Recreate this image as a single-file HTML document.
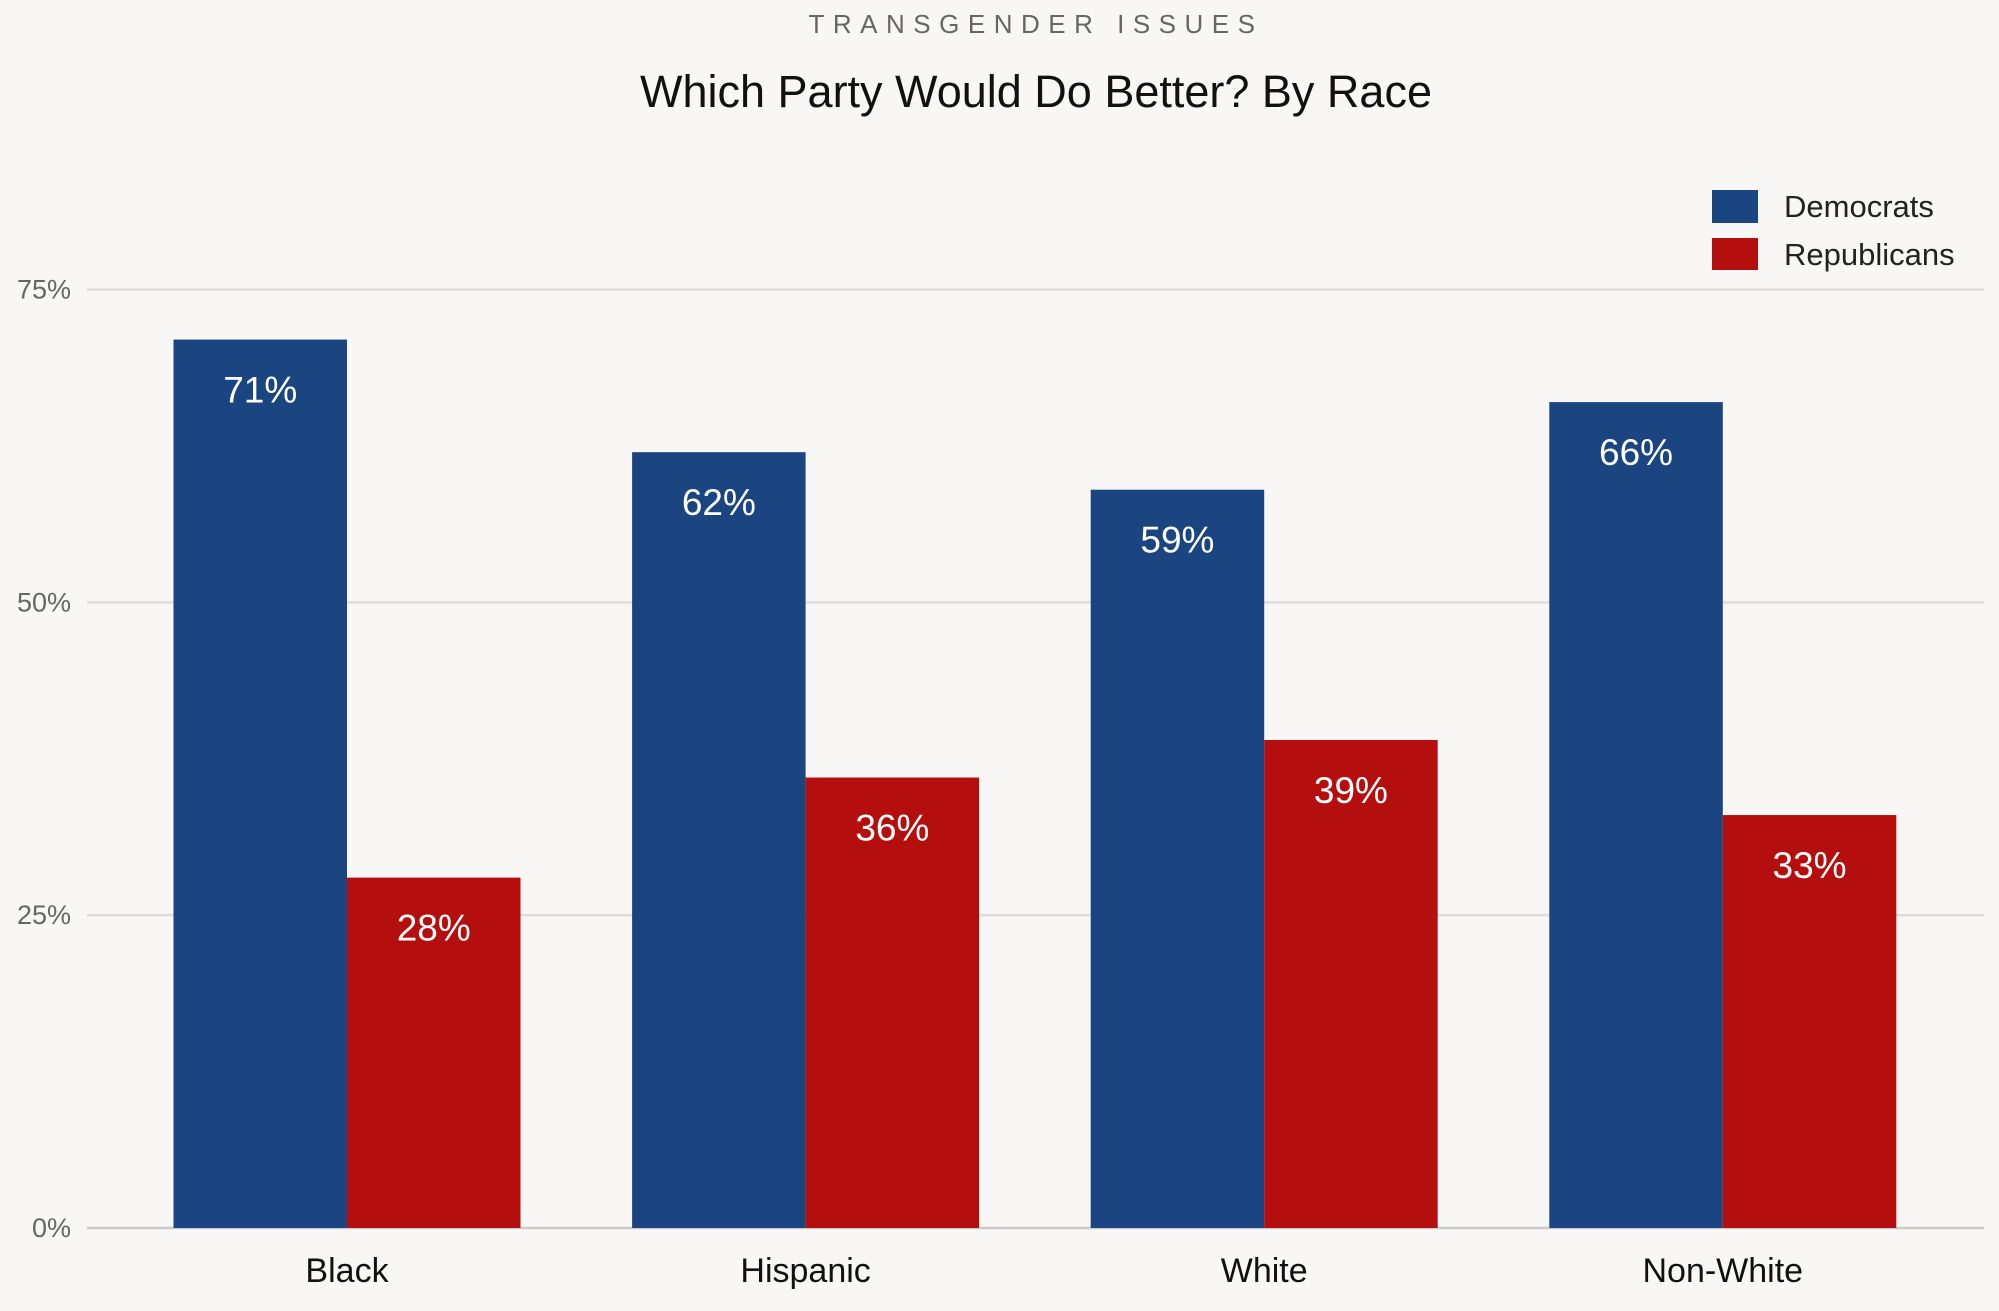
<!DOCTYPE html>
<html><head><meta charset="utf-8"><style>
body{margin:0;background:#f8f7f5;}
svg{display:block;font-family:"Liberation Sans",Arial,sans-serif;}
</style></head><body>
<svg id="chart" width="1999" height="1311" viewBox="0 0 1999 1311">
<rect width="1999" height="1311" fill="#f8f7f5"/>
<text x="1036" y="33" text-anchor="middle" font-size="26" fill="#666" letter-spacing="8.5">TRANSGENDER ISSUES</text>
<text x="1036" y="107" text-anchor="middle" font-size="45" fill="#111">Which Party Would Do Better? By Race</text>
<g>
<rect x="1712" y="190" width="46" height="33" fill="#1b4580"/>
<text x="1784" y="217" font-size="31" fill="#222">Democrats</text>
<rect x="1712" y="238" width="46" height="32" fill="#b50e0e"/>
<text x="1784" y="265" font-size="31" fill="#222">Republicans</text>
</g>
<g id="grid"></g><g id="bars"></g><g id="labels"></g>
</svg>
<script>
const categories=["Black","Hispanic","White","Non-White"];
const democrats=[71,62,59,66];
const republicans=[28,36,39,33];
const ticks=[0,25,50,75];
const tickLabels=["0%","25%","50%","75%"];
const NS="http://www.w3.org/2000/svg";
function y(v){return 1228-v*(938.5/75);}
function cx(i){return 347+i*458.6;}
const BW=173.5;
function mk(tag,attrs,parent,text){const e=document.createElementNS(NS,tag);for(const k in attrs)e.setAttribute(k,attrs[k]);if(text!==undefined)e.textContent=text;document.getElementById(parent).appendChild(e);return e;}
ticks.forEach((t,i)=>{
 const l=mk('line',{x1:87,x2:1984,y1:y(t),y2:y(t),stroke:t===0?'#ccc':'#ddd','stroke-width':2.5},'grid');
 
 
 const tx=mk('text',{x:71,y:y(t)+9,'text-anchor':'end','font-size':27,fill:'#666'},'grid',tickLabels[i]);
 
 
});
categories.forEach((c,i)=>{
 [[democrats,'#1b4580',-BW,'democrats'],[republicans,'#b50e0e',0,'republicans']].forEach(([arr,col,off,nm])=>{
  const v=arr[i];const x=cx(i)+off;
  const r=mk('rect',{x:x,y:y(v),width:BW,height:1228-y(v),fill:col},'bars');
  
  
  const t=mk('text',{x:x+BW/2,y:y(v)+63,'text-anchor':'middle','font-size':37,fill:'#fff'},'labels',v+'%');
  
  
 });
 const xl=mk('text',{x:cx(i),y:1282,'text-anchor':'middle','font-size':34,fill:'#111'},'labels',c);
 
 
});
</script>
</body></html>
